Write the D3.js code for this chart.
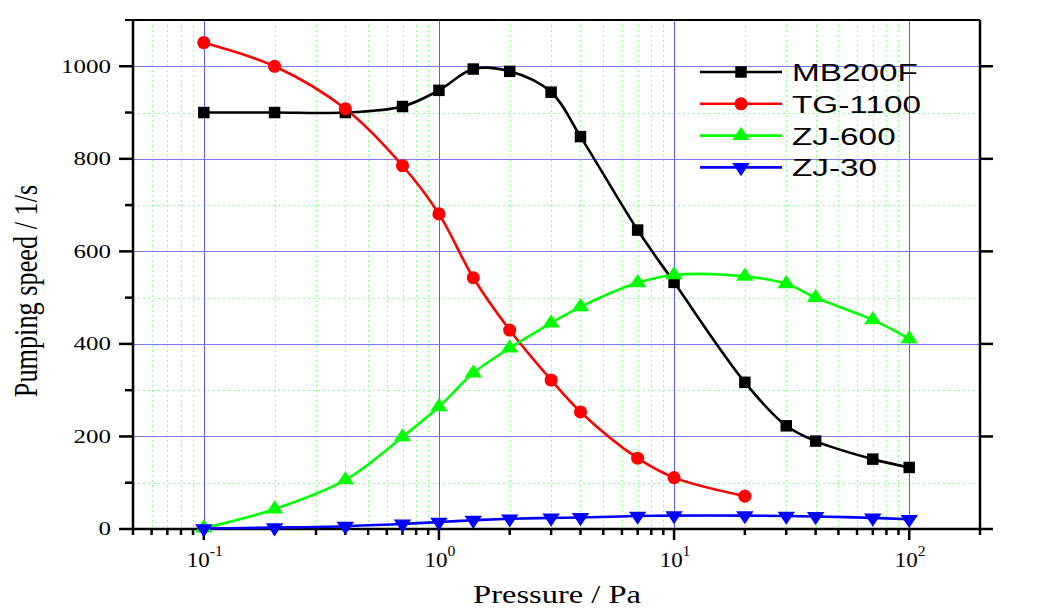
<!DOCTYPE html>
<html><head><meta charset="utf-8">
<script src="https://cdn.jsdelivr.net/npm/d3@7"></script>
<style>
html,body{margin:0;padding:0;background:#fff;overflow:hidden;}
</style></head>
<body><svg id="chart" width="1049" height="609"></svg>
<script>
// ---- data ----
const pressure = [0.1,0.2,0.4,0.7,1,1.4,2,3,4,7,10,20,30,40,70,100];
const mb200f   = [900,900,900,913,948,994,989,944,848,646,533,317,223,190,151,133];
const tgPressure = [0.1,0.2,0.4,0.7,1,1.4,2,3,4,7,10,20];
const tg1100   = [1051,1000,908,785,681,543,430,322,253,153,111,71];
const zj600    = [2,43,106,199,264,337,391,445,480,532,549,546,530,500,452,411];
const zj30     = [1,3,6,11,15,19,22,24,25,28,29,29,28,27,24,21];
const seriesNames = ["MB200F","TG-1100","ZJ-600","ZJ-30"];
const xMajorTicks = [0.1,1,10,100];
const xTickExp = ["-1","0","1","2"];
const yMajorTicks = [0,200,400,600,800,1000];
const yMinorTicks = [100,300,500,700,900];
const xTitle = "Pressure / Pa";
const yTitle = "Pumping speed / 1/s";

// ---- layout ----
const L = 133, R = 980, T = 20, B = 529;
const svg = d3.select("#chart");
const x = d3.scaleLog().domain([0.05,200]).range([L,R]);
const y = d3.scaleLinear().domain([0,1100]).range([B,T]);
const xMinorTicks = x.ticks().filter(v => !xMajorTicks.some(m => Math.abs(m - v) < 1e-9));

const series = [
  {name:seriesNames[0], xs:pressure,   ys:mb200f, color:"#000000", sym:"square"},
  {name:seriesNames[1], xs:tgPressure, ys:tg1100, color:"#ff0000", sym:"circle"},
  {name:seriesNames[2], xs:pressure,   ys:zj600,  color:"#00ff00", sym:"up"},
  {name:seriesNames[3], xs:pressure,   ys:zj30,   color:"#0000ff", sym:"down"}
];

// ---- grid ----
const grid = svg.append("g");
grid.selectAll(".gx2").data(xMinorTicks.filter(v => v > 0.05 && v < 200)).enter().append("line")
  .attr("x1", d => Math.round(x(d)) + 0.5).attr("x2", d => Math.round(x(d)) + 0.5)
  .attr("y1", T).attr("y2", B)
  .attr("stroke", "#8cff8c").attr("stroke-width", 1).attr("stroke-dasharray", "2,3");
grid.selectAll(".gy2").data(yMinorTicks).enter().append("line")
  .attr("x1", L).attr("x2", R)
  .attr("y1", d => Math.round(y(d)) + 0.5).attr("y2", d => Math.round(y(d)) + 0.5)
  .attr("stroke", "#8cff8c").attr("stroke-width", 1).attr("stroke-dasharray", "2,3");
grid.selectAll(".gx").data(xMajorTicks).enter().append("line")
  .attr("x1", d => Math.round(x(d)) + 0.5).attr("x2", d => Math.round(x(d)) + 0.5)
  .attr("y1", T).attr("y2", B)
  .attr("stroke", "#5a5aff").attr("stroke-width", 1);
grid.selectAll(".gy").data(yMajorTicks.filter(v => v > 0)).enter().append("line")
  .attr("x1", L).attr("x2", R)
  .attr("y1", d => Math.round(y(d)) + 0.5).attr("y2", d => Math.round(y(d)) + 0.5)
  .attr("stroke", "#7a7aff").attr("stroke-width", 1.2);

// ---- axes ----
const ax = svg.append("g").attr("stroke", "#000").attr("stroke-width", 2.5);
ax.append("line").attr("x1", 125).attr("x2", R).attr("y1", T).attr("y2", T).attr("stroke-width", 2);
ax.append("line").attr("x1", L).attr("x2", L).attr("y1", T).attr("y2", B);
ax.append("line").attr("x1", R).attr("x2", R).attr("y1", T).attr("y2", B);
ax.append("line").attr("x1", L - 1).attr("x2", 993).attr("y1", B).attr("y2", B);
// y ticks
ax.selectAll(".ty").data(yMajorTicks).enter().append("line")
  .attr("x1", L - 14).attr("x2", L).attr("y1", d => y(d)).attr("y2", d => y(d));
ax.selectAll(".ty2").data(yMinorTicks).enter().append("line")
  .attr("x1", L - 8).attr("x2", L).attr("y1", d => y(d)).attr("y2", d => y(d));
ax.selectAll(".tyr").data(yMajorTicks.filter(v => v > 0)).enter().append("line")
  .attr("x1", R).attr("x2", R + 13).attr("y1", d => y(d)).attr("y2", d => y(d));
// x ticks
ax.selectAll(".tx").data(xMajorTicks).enter().append("line")
  .attr("x1", d => x(d)).attr("x2", d => x(d)).attr("y1", B).attr("y2", B + 11);
ax.selectAll(".tx2").data(xMinorTicks).enter().append("line")
  .attr("x1", d => x(d)).attr("x2", d => x(d)).attr("y1", B).attr("y2", B + 6);

// tick labels
const ylab = svg.append("g").attr("font-family", "'Liberation Serif','Times New Roman',serif").attr("font-size", 18.5).attr("fill", "#000");
yMajorTicks.forEach(v => {
  ylab.append("text").attr("transform", `translate(111,${y(v) + 6.3}) scale(1.35,1)`)
    .attr("text-anchor", "end").text(v);
});
const xlab = svg.append("g").attr("font-family", "'Liberation Serif','Times New Roman',serif").attr("fill", "#000");
xMajorTicks.forEach((v, i) => {
  const t = xlab.append("text").attr("transform", `translate(${x(v) + 1},567) scale(1.12,1)`)
    .attr("text-anchor", "middle").attr("font-size", 20.5);
  t.append("tspan").text("10");
  t.append("tspan").attr("dy", -11).attr("font-size", 14).text(xTickExp[i]);
});

// axis titles
svg.append("text").attr("transform", "translate(557,603) scale(1.25,1)")
  .attr("text-anchor", "middle").attr("font-family", "'Liberation Serif','Times New Roman',serif")
  .attr("font-size", 26).attr("fill", "#000").text(xTitle);
svg.append("text").attr("transform", "translate(37,291) scale(1.27,1) rotate(-90)")
  .attr("text-anchor", "middle").attr("font-family", "'Liberation Serif','Times New Roman',serif")
  .attr("font-size", 26.3).attr("fill", "#000").text(yTitle);

// ---- curves ----
const symPath = {
  square: d3.symbol().type(d3.symbolSquare).size(132)(),
  circle: d3.symbol().type(d3.symbolCircle).size(135)(),
  up: d3.symbol().type(d3.symbolTriangle).size(100)(),
  down: d3.symbol().type(d3.symbolTriangle).size(100)()
};
const line = d3.line().x(d => x(d[0])).y(d => y(d[1])).curve(d3.curveCatmullRom.alpha(0.5));
const plot = svg.append("g");
series.forEach(s => {
  const pts = s.xs.map((p, i) => [p, s.ys[i]]);
  plot.append("path").datum(pts).attr("d", line)
    .attr("fill", "none").attr("stroke", s.color).attr("stroke-width", 2.6);
});
series.forEach(s => {
  const pts = s.xs.map((p, i) => [p, s.ys[i]]);
  plot.selectAll(null).data(pts).enter().append("path")
    .attr("d", symPath[s.sym])
    .attr("transform", d => `translate(${x(d[0])},${y(d[1])})` + (s.sym === "down" ? " rotate(180)" : "") + (s.sym === "up" || s.sym === "down" ? " scale(1.15,1)" : ""))
    .attr("fill", s.color);
});

// ---- legend ----
const leg = svg.append("g");
series.forEach((s, i) => {
  const ly = 72 + i * 31.8;
  leg.append("line").attr("x1", 700).attr("x2", 782).attr("y1", ly).attr("y2", ly)
    .attr("stroke", s.color).attr("stroke-width", 2.6);
  leg.append("path").attr("d", symPath[s.sym])
    .attr("transform", `translate(741,${ly})` + (s.sym === "down" ? " rotate(180)" : "") + (s.sym === "up" || s.sym === "down" ? " scale(1.15,1)" : ""))
    .attr("fill", s.color);
  leg.append("text").attr("transform", `translate(792,${ly + 9}) scale(1.36,1)`)
    .attr("font-family", "'Liberation Sans',Arial,sans-serif").attr("font-size", 24.5)
    .attr("fill", "#000").text(s.name);
});
</script>
</body></html>
